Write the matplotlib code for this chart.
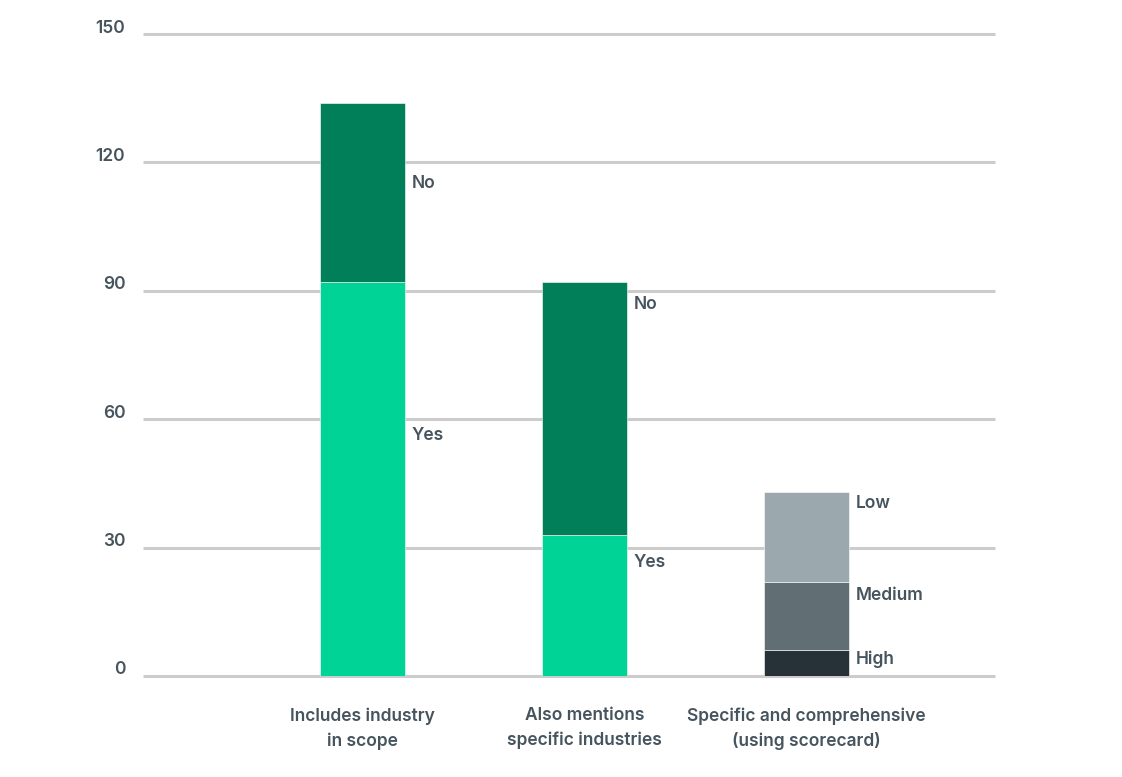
import matplotlib
matplotlib.use("Agg")
import matplotlib.pyplot as plt

plt.rcParams['font.family'] = ['Inter', 'DejaVu Sans']

categories = ["Includes industry\nin scope", "Also mentions\nspecific industries",
              "Specific and comprehensive\n(using scorecard)"]
# stacked segments, bottom to top
bar1_labels = ["Yes", "No"]
bar1_values = [92, 42]
bar2_labels = ["Yes", "No"]
bar2_values = [33, 59]
bar3_labels = ["High", "Medium", "Low"]
bar3_values = [6, 16, 21]
yticks = [0, 30, 60, 90, 120, 150]

# label placement (data units) — layout only
bar1_label_y = [56.3, 115.0]
bar2_label_y = [26.5, 86.7]
bar3_label_y = [3.9, 18.9, 40.4]

col_yes = "#00d396"
col_no = "#007f58"
col_high = "#263238"
col_med = "#616e74"
col_low = "#9ba8ad"
text_col = "#46545e"
grid_col = "#cccccc"

fig = plt.figure(figsize=(11.22, 7.77), dpi=100)
ax = fig.add_axes([0.1275, 0.13, 0.7594, 0.8262])
ax.set_xlim(-0.99, 2.85)
ax.set_ylim(0, 150)
ax.axis('off')

for v in yticks:
    ax.hlines(v, -0.99, 2.85, color=grid_col, lw=2.2, clip_on=False, zorder=0)
    ax.text(-1.07, v + 1.4, str(v), ha='right', va='center', fontsize=12.5,
            color=text_col, fontweight='semibold')

w = 0.383
stacks = [
    (bar1_values, bar1_labels, [col_yes, col_no], bar1_label_y),
    (bar2_values, bar2_labels, [col_yes, col_no], bar2_label_y),
    (bar3_values, bar3_labels, [col_high, col_med, col_low], bar3_label_y),
]
for i, (vals, labs, cols, ly) in enumerate(stacks):
    bottom = 0
    for v, lab, c, y in zip(vals, labs, cols, ly):
        ax.bar(i, v, width=w, bottom=bottom, color=c, edgecolor='white',
               linewidth=0.4, zorder=2)
        ax.text(i + w / 2 + 0.03, y, lab, ha='left', va='center', fontsize=12.5,
                color=text_col, fontweight='semibold')
        bottom += v
    ax.text(i, -7.3, categories[i], ha='center', va='top', fontsize=12.5,
            color=text_col, fontweight='semibold', linespacing=1.55)

fig.savefig("out.png", dpi=100, facecolor='white')
